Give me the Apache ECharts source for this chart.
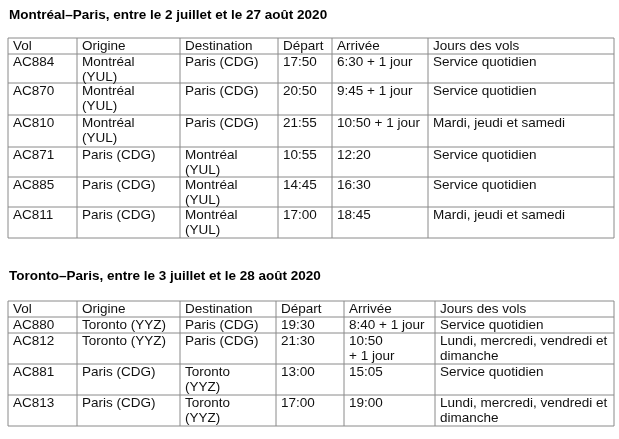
<!DOCTYPE html>
<html><head><meta charset="utf-8">
<script src="https://cdn.jsdelivr.net/npm/echarts@6/dist/echarts.min.js"></script>
<style>html,body{margin:0;padding:0;background:#fff}#c{width:619px;height:439px}</style>
</head><body><div id="c"></div>
<script>
const headers = ['Vol','Origine','Destination','Départ','Arrivée','Jours des vols'];
const title1 = 'Montréal–Paris, entre le 2 juillet et le 27 août 2020';
const rows1 = [
  ['AC884','Montréal\n(YUL)','Paris (CDG)','17:50','6:30 + 1 jour','Service quotidien'],
  ['AC870','Montréal\n(YUL)','Paris (CDG)','20:50','9:45 + 1 jour','Service quotidien'],
  ['AC810','Montréal\n(YUL)','Paris (CDG)','21:55','10:50 + 1 jour','Mardi, jeudi et samedi'],
  ['AC871','Paris (CDG)','Montréal\n(YUL)','10:55','12:20','Service quotidien'],
  ['AC885','Paris (CDG)','Montréal\n(YUL)','14:45','16:30','Service quotidien'],
  ['AC811','Paris (CDG)','Montréal\n(YUL)','17:00','18:45','Mardi, jeudi et samedi']
];
const title2 = 'Toronto–Paris, entre le 3 juillet et le 28 août 2020';
const rows2 = [
  ['AC880','Toronto (YYZ)','Paris (CDG)','19:30','8:40 + 1 jour','Service quotidien'],
  ['AC812','Toronto (YYZ)','Paris (CDG)','21:30','10:50\n+ 1 jour','Lundi, mercredi, vendredi et\ndimanche'],
  ['AC881','Paris (CDG)','Toronto\n(YYZ)','13:00','15:05','Service quotidien'],
  ['AC813','Paris (CDG)','Toronto\n(YYZ)','17:00','19:00','Lundi, mercredi, vendredi et\ndimanche']
];
// layout (positions only)
const layout1 = {titleY: 8, cols:[8,77,180,278,332,428,614], rowsY:[38,54,83,115,147,177,207,238]};
const layout2 = {titleY: 269, cols:[8,77,180,276,344,435,614], rowsY:[301,317,333,364,395,426]};
const FONT = 'Liberation Sans, Arial, sans-serif';
const LINE = '#8a8a8a';

function buildTable(title, rows, L) {
  const els = [];
  els.push({type:'text', left: 9, top: L.titleY, style:{text:title, font:'bold 13.5px '+FONT, fill:'#000'}});
  const all = [headers].concat(rows);
  const c = L.cols, r = L.rowsY;
  r.forEach(y => els.push({type:'line', shape:{x1:c[0],y1:y,x2:c[c.length-1],y2:y}, style:{stroke:LINE,lineWidth:1}}));
  c.forEach(x => els.push({type:'line', shape:{x1:x,y1:r[0],x2:x,y2:r[r.length-1]}, style:{stroke:LINE,lineWidth:1}}));
  all.forEach((row, i) => {
    row.forEach((txt, j) => {
      els.push({type:'text', x: c[j]+5, y: r[i]+0.5,
        style:{text:txt, font:'13.5px '+FONT, fill:'#111', lineHeight:15.5, verticalAlign:'top'}});
    });
  });
  return els;
}
const chart = echarts.init(document.getElementById('c'), null, {renderer:'canvas'});
chart.setOption({
  backgroundColor:'#fff',
  graphic: buildTable(title1, rows1, layout1).concat(buildTable(title2, rows2, layout2))
});
</script></body></html>
